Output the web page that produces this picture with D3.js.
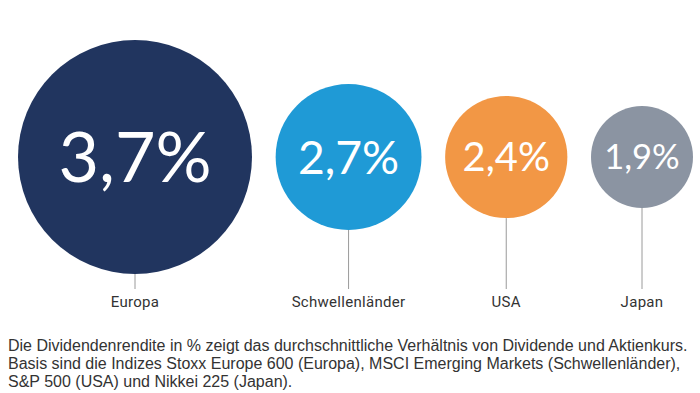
<!DOCTYPE html>
<html>
<head>
<meta charset="utf-8">
<script src="https://cdn.jsdelivr.net/npm/d3@7"></script>
<style>
  html, body { margin: 0; padding: 0; background: #fff; }
  svg { display: block; }
</style>
</head>
<body>
<svg id="chart" width="700" height="393"></svg>
<script>
// ---- data ----
const regions = ["Europa", "Schwellenländer", "USA", "Japan"];
const yields = [3.7, 2.7, 2.4, 1.9];
const valueLabels = ["3,7%", "2,7%", "2,4%", "1,9%"];
const colors = ["#21355f", "#1f9ad6", "#f29745", "#8b94a2"];
const footnoteLines = [
  "Die Dividendenrendite in % zeigt das durchschnittliche Verhältnis von Dividende und Aktienkurs.",
  "Basis sind die Indizes Stoxx Europe 600 (Europa), MSCI Emerging Markets (Schwellenländer),",
  "S&P 500 (USA) und Nikkei 225 (Japan)."
];

// ---- layout ----
const left = 18, right = 693, cy = 157;
const lineEnd = 289, labelY = 306.5;
const minR = 51;

const svg = d3.select("#chart");

const rScale = d3.scalePow().exponent(1.5).domain([0, d3.max(yields)]).range([0, 117]);
const radii = yields.map(v => Math.max(rScale(v), minR));
const gap = (right - left - 2 * d3.sum(radii)) / (yields.length - 1);
const centers = [];
let cur = left;
radii.forEach(r => { centers.push(cur + r); cur += 2 * r + gap; });

const fontScale = d3.scaleLinear().domain([51, 117]).range([34.5, 70]);

const data = regions.map((name, i) => ({
  name, value: yields[i], label: valueLabels[i], color: colors[i],
  r: radii[i], cx: centers[i]
}));

const g = svg.append("g");

// connector lines
g.selectAll("line.conn").data(data).join("line")
  .attr("class", "conn")
  .attr("x1", d => d.cx).attr("x2", d => d.cx)
  .attr("y1", d => cy + d.r).attr("y2", lineEnd)
  .attr("stroke", "#9a9a9a").attr("stroke-width", 1);

// circles
g.selectAll("circle").data(data).join("circle")
  .attr("cx", d => d.cx).attr("cy", cy).attr("r", d => d.r)
  .attr("fill", d => d.color);

// value labels
g.selectAll("text.val").data(data).join("text")
  .attr("class", "val")
  .attr("x", d => d.cx)
  .attr("y", cy)
  .attr("dy", "0.36em")
  .attr("text-anchor", "middle")
  .attr("fill", "#fff")
  .style("font-family", "Lato, 'Open Sans', sans-serif")
  .style("font-weight", 400)
  .style("font-size", d => fontScale(d.r) + "px")
  .text(d => d.label);

// region labels
g.selectAll("text.reg").data(data).join("text")
  .attr("class", "reg")
  .attr("x", d => d.cx)
  .attr("y", labelY)
  .attr("text-anchor", "middle")
  .attr("fill", "#333")
  .style("font-family", "Roboto, 'Liberation Sans', sans-serif")
  .style("font-size", "15px")
  .style("letter-spacing", "0.3px")
  .text(d => d.name);

// footnote
svg.append("g").selectAll("text").data(footnoteLines).join("text")
  .attr("x", 8)
  .attr("y", (d, i) => 351 + i * 18)
  .attr("fill", "#333")
  .style("font-family", "'Liberation Sans', Arial, sans-serif")
  .style("font-size", "16px")
  .text(d => d);
</script>
</body>
</html>
